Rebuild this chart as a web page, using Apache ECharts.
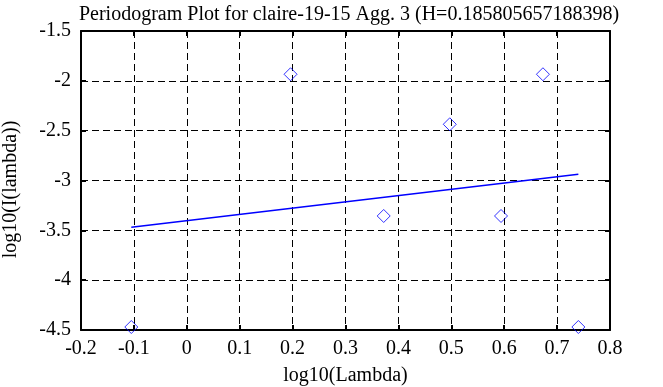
<!DOCTYPE html>
<html>
<head>
<meta charset="utf-8">
<script src="https://cdn.jsdelivr.net/npm/echarts@6/dist/echarts.min.js"></script>
<style>
html,body{margin:0;padding:0;background:#fff;}
#c{width:663px;height:387px;}
</style>
</head>
<body>
<div id="c"></div>
<script>
// Data
const titleText = 'Periodogram Plot for claire-19-15 Agg. 3 (H=0.185805657188398)';
const logLambda = [-0.1049, 0.1961, 0.3722, 0.4971, 0.5940, 0.6732, 0.7402];
const logI = [-4.47, -1.934, -3.356, -2.436, -3.356, -1.934, -4.47];
const fitX = [-0.1049, 0.7402];
const fitY = [-3.469, -2.937];
const xName = 'log10(Lambda)';
const yName = 'log10(I(lambda))';

const FONT = '"Liberation Serif", "Times New Roman", serif';
const FS = 20;
const chart = echarts.init(document.getElementById('c'), null, {renderer: 'canvas'});
const pts = logLambda.map((x, i) => [x, logI[i]]);
const fit = fitX.map((x, i) => [x, fitY[i]]);
const axisLineStyle = {color: '#000', width: 2};
chart.setOption({
  animation: false,
  backgroundColor: '#fff',
  title: {
    text: titleText, left: 344, top: 0, textAlign: 'center',
    textStyle: {fontFamily: FONT, fontSize: FS, fontWeight: 'normal', color: '#000'}
  },
  grid: {left: 81, right: 53, top: 31, bottom: 57, containLabel: false, outerBoundsMode: 'none'},
  xAxis: [{
    type: 'value', min: -0.2, max: 0.8, interval: 0.1,
    name: xName, nameLocation: 'middle', nameGap: 36,
    nameTextStyle: {fontFamily: FONT, fontSize: FS, color: '#000'},
    axisLine: {show: true, onZero: false, lineStyle: axisLineStyle},
    axisTick: {show: true, inside: true, length: 5, lineStyle: {color: '#000', width: 2}},
    axisLabel: {fontFamily: FONT, fontSize: FS, color: '#000', margin: 9},
    splitLine: {show: true, lineStyle: {color: '#000', width: 1, type: [7, 4]}}
  }, {
    type: 'value', position: 'top', min: -0.2, max: 0.8, interval: 0.1,
    axisLine: {show: true, onZero: false, lineStyle: axisLineStyle},
    axisTick: {show: true, inside: true, length: 5, lineStyle: {color: '#000', width: 2}},
    axisLabel: {show: false}, splitLine: {show: false}
  }],
  yAxis: [{
    type: 'value', min: -4.5, max: -1.5, interval: 0.5,
    name: yName, nameLocation: 'middle', nameGap: 60,
    nameTextStyle: {fontFamily: FONT, fontSize: FS, color: '#000', padding: [0, 18, 0, 0]},
    axisLine: {show: true, onZero: false, lineStyle: axisLineStyle},
    axisTick: {show: true, inside: true, length: 5, lineStyle: {color: '#000', width: 2}},
    axisLabel: {fontFamily: FONT, fontSize: FS, color: '#000', margin: 10},
    splitLine: {show: true, lineStyle: {color: '#000', width: 1, type: [7, 4]}}
  }, {
    type: 'value', position: 'right', min: -4.5, max: -1.5, interval: 0.5,
    axisLine: {show: true, onZero: false, lineStyle: axisLineStyle},
    axisTick: {show: true, inside: true, length: 5, lineStyle: {color: '#000', width: 2}},
    axisLabel: {show: false}, splitLine: {show: false}
  }],
  series: [{
    type: 'line', data: fit, symbol: 'none',
    lineStyle: {color: '#0000ff', width: 1.5}, z: 3
  }, {
    type: 'scatter', data: pts, symbol: 'diamond', symbolSize: 13,
    itemStyle: {color: 'rgba(255,255,255,0)', borderColor: '#0000ff', borderWidth: 1},
    z: 4
  }]
});
</script>
</body>
</html>
